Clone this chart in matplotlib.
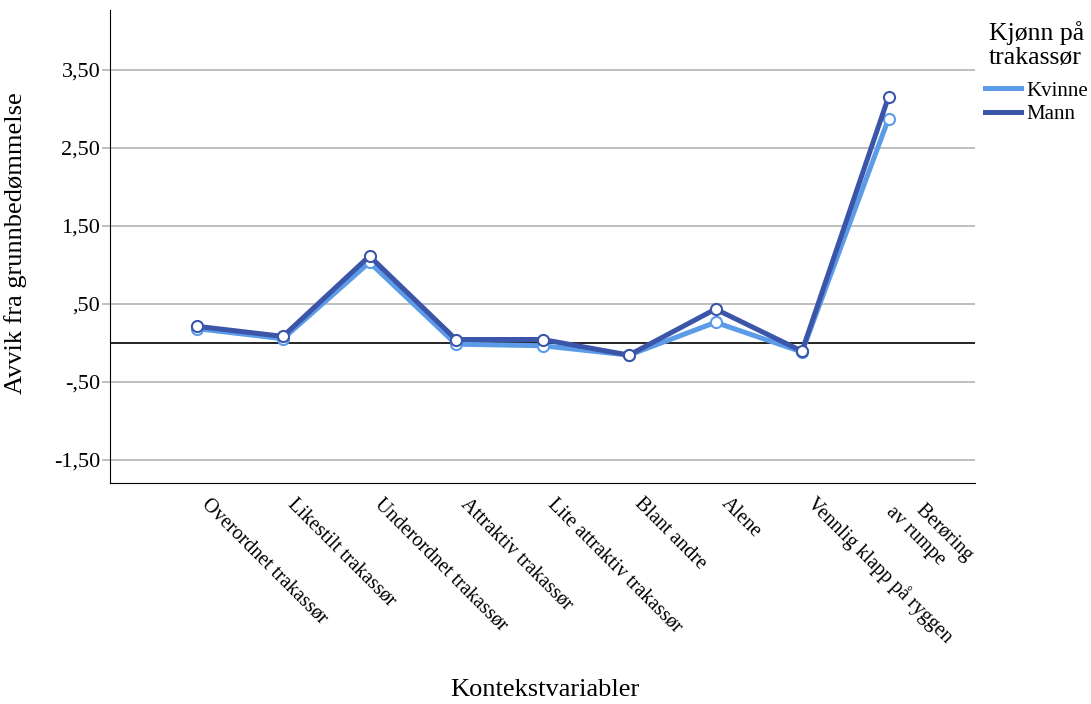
import matplotlib
matplotlib.use("Agg")
import matplotlib.pyplot as plt
from matplotlib.transforms import ScaledTranslation

categories = ["Overordnet trakassør", "Likestilt trakassør", "Underordnet trakassør",
              "Attraktiv trakassør", "Lite attraktiv trakassør", "Blant andre", "Alene",
              "Vennlig klapp på ryggen", "    Berøring\nav rumpe"]
kvinne = [0.18, 0.05, 1.03, -0.02, -0.04, -0.16, 0.26, -0.12, 2.87]
mann = [0.21, 0.08, 1.11, 0.04, 0.04, -0.16, 0.43, -0.11, 3.15]
yticks = [-1.5, -0.5, 0.5, 1.5, 2.5, 3.5]
ytick_labels = ["-1,50", "-,50", ",50", "1,50", "2,50", "3,50"]
series_names = ["Kvinne", "Mann"]
legend_title = "Kjønn på\ntrakassør"

plt.rcParams['font.family'] = ['Liberation Serif', 'DejaVu Serif']

fig = plt.figure(figsize=(10.91, 7.04), dpi=100)
ax = fig.add_axes([110/1091, 1-483/704, 865/1091, 473/704])

x = list(range(1, len(categories) + 1))
c_k = "#5b9be8"
c_m = "#3b55a8"

for yv in yticks:
    ax.axhline(yv, color="#b4b4b4", lw=1.2, zorder=0)
ax.axhline(0, color="black", lw=1.2, zorder=1)

ax.plot(x, kvinne, color=c_k, lw=3.6, marker="o", markersize=8,
        markerfacecolor="white", markeredgecolor=c_k, markeredgewidth=1.5,
        label=series_names[0], zorder=3)
ax.plot(x, mann, color=c_m, lw=3.6, marker="o", markersize=8,
        markerfacecolor="white", markeredgecolor=c_m, markeredgewidth=1.5,
        label=series_names[1], zorder=4)

ax.set_xlim(0, 10)
ax.set_ylim(-1.80, 4.265)
ax.set_yticks(yticks)
ax.set_yticklabels(ytick_labels, fontsize=16)
ax.set_xticks(x)
ax.set_xticklabels(categories, rotation=-45, ha="left", va="center",
                   rotation_mode="anchor", fontsize=14.5)
ax.tick_params(axis="x", length=0, pad=13)
ax.tick_params(axis="y", length=6, color="#b4b4b4", width=1.2, pad=1)
shift = ScaledTranslation(8/100, 0, fig.dpi_scale_trans)
for lab in ax.get_xticklabels():
    lab.set_multialignment("left")
    lab.set_linespacing(1.3)
    lab.set_transform(lab.get_transform() + shift)

ax.spines["top"].set_visible(False)
ax.spines["right"].set_visible(False)
ax.spines["left"].set_color("black")
ax.spines["bottom"].set_color("black")

ax.set_ylabel("Avvik fra grunnbedømmelse", fontsize=19)
ax.yaxis.set_label_coords(27/1091, 1-243/704, transform=fig.transFigure)
fig.text(545/1091, 1-690/704, "Kontekstvariabler", fontsize=19, ha="center", va="center")

fig.text(989/1091, 1-21/704, legend_title, fontsize=18.5, ha="left", va="top",
         linespacing=1.12)

leg = ax.legend(loc="upper left", bbox_to_anchor=(985/1091, 1-81/704),
                bbox_transform=fig.transFigure, frameon=False,
                fontsize=15, handlelength=1.75, handletextpad=0.25, labelspacing=0.2,
                borderaxespad=0, borderpad=0)
for line in leg.get_lines():
    line.set_marker("")
    line.set_linewidth(3.6)

fig.savefig("out.png", dpi=100)
